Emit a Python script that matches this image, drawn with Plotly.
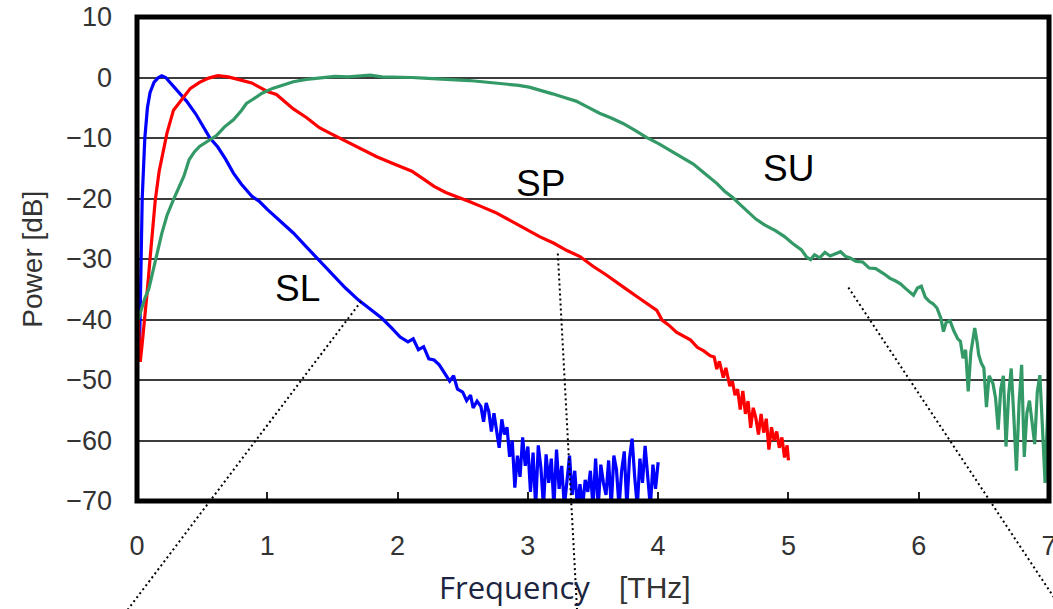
import plotly.graph_objects as go

# ---------------- data ----------------
freq_sl = [0.02, 0.03, 0.04, 0.06, 0.08, 0.10, 0.13, 0.16, 0.19, 0.22, 0.27, 0.32, 0.38, 0.45, 0.52, 0.56,
           0.62, 0.68, 0.74, 0.80, 0.88, 0.94, 1.00, 1.10, 1.20, 1.30, 1.39, 1.50, 1.60, 1.70, 1.80, 1.88,
           1.95, 2.02, 2.08, 2.12, 2.16, 2.20, 2.24, 2.28, 2.32, 2.36, 2.40, 2.43, 2.46, 2.50, 2.53, 2.56,
           2.58, 2.61, 2.64, 2.66, 2.68, 2.70, 2.72, 2.74, 2.76, 2.78, 2.80, 2.82, 2.84, 2.86, 2.88, 2.90,
           2.92, 2.94, 2.96, 2.98, 3.00, 3.02, 3.04, 3.06, 3.08, 3.10, 3.12, 3.14, 3.16, 3.18, 3.20, 3.22,
           3.24, 3.26, 3.28, 3.30, 3.32, 3.34, 3.36, 3.38, 3.40, 3.42, 3.44, 3.46, 3.48, 3.50, 3.52, 3.54,
           3.56, 3.58, 3.60, 3.62, 3.64, 3.66, 3.68, 3.70, 3.72, 3.74, 3.76, 3.78, 3.80, 3.82, 3.84, 3.86,
           3.88, 3.90, 3.92, 3.94, 3.96, 3.98, 4.00]
power_sl = [-44, -30, -20, -10, -5, -2.5, -0.8, -0.1, 0.3, 0, -1.2, -2.5, -3.9, -6, -8.7, -10,
            -11.5, -13.5, -15.8, -17.6, -19.6, -20.5, -21.8, -23.7, -25.7, -28, -30, -32.5, -34.8, -36.8, -38.4, -39.8,
            -41.3, -42.9, -43.7, -43.2, -45, -44.5, -46.5, -46.7, -47.5, -48.8, -50.2, -49.3, -51.5, -52, -53.4, -52.5,
            -54.6, -53.5, -54.4, -56.9, -53.8, -55.2, -58.5, -55.5, -58, -61.2, -56.5, -59, -57.8, -62.7, -60, -67.8,
            -62.5, -66, -59.5, -64.2, -61, -68.5, -62, -71, -60.8, -64.5, -71, -62.3, -67, -63, -71, -61.5,
            -68, -64.2, -71, -66.5, -62.5, -69, -65, -71, -67.2, -71, -66.5, -68.5, -65, -71, -63, -71,
            -64, -67, -69, -63.3, -71, -62.5, -64.8, -71, -65, -61.8, -71, -63, -59.7, -66, -71, -63,
            -67, -60.9, -66, -71, -64, -68, -63.6]

freq_sp = [0.01, 0.025, 0.04, 0.06, 0.08, 0.10, 0.12, 0.14, 0.17, 0.20, 0.23, 0.28, 0.35, 0.41, 0.48, 0.55,
           0.62, 0.70, 0.79, 0.88, 0.95, 1.00, 1.07, 1.13, 1.20, 1.30, 1.40, 1.48, 1.57, 1.66, 1.75, 1.84,
           1.95, 2.05, 2.11, 2.20, 2.28, 2.37, 2.46, 2.55, 2.64, 2.75, 2.87, 2.98, 3.09, 3.20, 3.30, 3.40,
           3.50, 3.60, 3.67, 3.75, 3.85, 3.92, 3.99, 4.03, 4.08, 4.14, 4.20, 4.25, 4.30, 4.35, 4.40, 4.43,
           4.45, 4.47, 4.50, 4.52, 4.55, 4.57, 4.59, 4.61, 4.63, 4.65, 4.67, 4.69, 4.71, 4.73, 4.75, 4.77,
           4.79, 4.81, 4.83, 4.85, 4.87, 4.89, 4.91, 4.93, 4.95, 4.97, 4.99, 5.00]
power_sp = [-40, -47, -44, -40, -35, -30, -25, -20.3, -15.5, -12.5, -9.2, -5.4, -3.4, -1.8, -0.8, -0.1,
            0.3, 0.1, -0.4, -0.9, -1.7, -2.3, -2.8, -3.9, -5.2, -6.6, -8.3, -9.2, -10.2, -11.1, -12.1, -13.1,
            -14.1, -14.9, -15.5, -16.8, -18, -19, -19.7, -20.5, -21.3, -22.3, -23.7, -25, -26.3, -27.4, -28.6, -29.6,
            -31.2, -32.6, -33.6, -34.9, -36.4, -37.5, -38.5, -40.1, -40.9, -42.1, -42.8, -43.4, -44.6, -45.2, -46, -46.2,
            -48.2, -46.9, -49.6, -48, -51, -50.2, -52.5, -51.5, -54.9, -51.8, -55.6, -53.5, -57.9, -54.6, -56.3, -59,
            -55.6, -58.7, -56.4, -61.5, -57.8, -60, -58.5, -61.2, -59.5, -62.8, -60.8, -63.3]

freq_su = [0.01, 0.03, 0.06, 0.09, 0.12, 0.15, 0.19, 0.23, 0.28, 0.32, 0.36, 0.40, 0.44, 0.48, 0.54, 0.61,
           0.67, 0.74, 0.80, 0.84, 0.89, 0.96, 1.04, 1.12, 1.20, 1.30, 1.40, 1.52, 1.62, 1.70, 1.79, 1.88,
           2.00, 2.11, 2.20, 2.30, 2.42, 2.55, 2.65, 2.74, 2.85, 2.93, 3.01, 3.10, 3.19, 3.28, 3.37, 3.46,
           3.55, 3.64, 3.73, 3.82, 3.91, 4.00, 4.09, 4.18, 4.27, 4.36, 4.45, 4.51, 4.57, 4.63, 4.69, 4.75,
           4.82, 4.90, 4.97, 5.03, 5.10, 5.14, 5.17, 5.20, 5.24, 5.28, 5.32, 5.36, 5.40, 5.44, 5.47, 5.52,
           5.57, 5.62, 5.67, 5.73, 5.78, 5.82, 5.86, 5.90, 5.93, 5.96, 5.99, 6.02, 6.05, 6.08, 6.11, 6.14,
           6.17, 6.19, 6.21, 6.24, 6.27, 6.30, 6.32, 6.34, 6.36, 6.38, 6.40, 6.43, 6.45, 6.46, 6.48, 6.50,
           6.52, 6.54, 6.57, 6.59, 6.61, 6.63, 6.65, 6.67, 6.69, 6.71, 6.73, 6.75, 6.77, 6.79, 6.81, 6.83,
           6.85, 6.87, 6.89, 6.91, 6.93, 6.95, 6.97, 6.99, 7.00]
power_su = [-40, -38.5, -36.5, -35, -32.5, -29.5, -25.8, -22.8, -20.2, -18.2, -16.3, -13.6, -12.3, -11.4, -10.5, -9.6,
            -8.2, -7, -5.5, -4.3, -3.6, -2.6, -1.8, -1.2, -0.7, -0.3, -0.1, 0.2, 0.1, 0.3, 0.4, 0.1,
            0.1, 0, -0.1, -0.2, -0.4, -0.5, -0.7, -0.9, -1.1, -1.3, -1.6, -2.1, -2.7, -3.3, -3.9, -4.9,
            -5.9, -6.7, -7.6, -8.7, -9.9, -10.9, -12, -13.1, -14.3, -15.9, -17.5, -18.8, -19.8, -21, -22.2, -23.4,
            -24.4, -25.3, -26.3, -27.4, -28.5, -29.7, -30.1, -29.3, -29.8, -28.9, -29.5, -29.1, -28.8, -29.6, -29.8, -30.4,
            -30.5, -31.5, -31.6, -32.4, -33.2, -33.6, -34.1, -34.9, -35.5, -36, -34.8, -34.5, -36.3, -37, -37.4, -38.1,
            -39.8, -42, -40.5, -40.2, -41.9, -43.2, -43.6, -46.4, -45, -51.9, -45.5, -41.4, -44, -45.8, -47.2, -48,
            -54.5, -49.3, -50.6, -53, -58.2, -51.5, -49.3, -61, -52.5, -48.1, -56, -65, -54, -47.5, -62.7, -55.5,
            -53.4, -57, -60.6, -52, -49.2, -58, -67, -55, -49.5]

series_names = ["SL", "SP", "SU"]
series_colors = ["#0000ff", "#ff0000", "#339966"]

# text labels (freq, power) of each curve name
label_freq = [1.23, 3.10, 5.00]
label_power = [-34.9, -17.5, -15.1]

# leader lines: start on the curve, end below the chart (freq, power)
lead_start_freq = [1.72, 3.23, 5.46]
lead_start_power = [-37.0, -29.1, -34.7]
lead_end_freq = [-0.09, 3.38, 7.04]
lead_end_power = [-88.5, -89.0, -86.0]

X_RANGE = [0, 7]
Y_RANGE = [-70, 10]
x_ticks = [0, 1, 2, 3, 4, 5, 6, 7]
y_ticks = [10, 0, -10, -20, -30, -40, -50, -60, -70]


def to_paper(f, p):
    return ((f - X_RANGE[0]) / (X_RANGE[1] - X_RANGE[0]),
            (p - Y_RANGE[0]) / (Y_RANGE[1] - Y_RANGE[0]))


fig = go.Figure()
for name, fx, py, col in zip(series_names, [freq_sl, freq_sp, freq_su],
                             [power_sl, power_sp, power_su], series_colors):
    fig.add_trace(go.Scatter(x=fx, y=py, mode="lines", name=name,
                             line=dict(color=col, width=3.2), showlegend=False))

TICK_FONT = dict(family="Liberation Sans, Arial, sans-serif", size=27, color="#333333")

fig.update_layout(
    width=1053, height=609,
    margin=dict(l=137, r=4, t=17, b=108, pad=0, autoexpand=False),
    paper_bgcolor="white", plot_bgcolor="white",
    xaxis=dict(range=X_RANGE, tickmode="array", tickvals=x_ticks,
               ticktext=[str(v) for v in x_ticks],
               showgrid=False, zeroline=False, showline=False,
               ticks="inside", ticklen=9, tickwidth=1.5, tickcolor="#222",
               tickfont=TICK_FONT, ticklabelstandoff=26,
               ticklabeloverflow="allow", automargin=False),
    yaxis=dict(range=Y_RANGE, tickmode="array", tickvals=y_ticks,
               showgrid=True, gridcolor="#3c3c3c", gridwidth=2,
               zeroline=False, showline=False, ticks="",
               tickfont=TICK_FONT, ticklabelstandoff=24,
               ticklabeloverflow="allow", automargin=False),
)

# thick black frame
fig.add_shape(type="rect", xref="paper", yref="paper", x0=0, y0=0, x1=1, y1=1,
              line=dict(color="black", width=5), layer="above")

# leader lines
for sf, sp_, ef, ep in zip(lead_start_freq, lead_start_power, lead_end_freq, lead_end_power):
    x0, y0 = to_paper(sf, sp_)
    x1, y1 = to_paper(ef, ep)
    fig.add_shape(type="line", xref="paper", yref="paper", x0=x0, y0=y0, x1=x1, y1=y1,
                  line=dict(color="black", width=2, dash="2px,3px"), layer="above")

# curve name labels
for name, lf, lp in zip(series_names, label_freq, label_power):
    fig.add_annotation(x=lf, y=lp, xref="x", yref="y", text=name, showarrow=False,
                       font=dict(family="Liberation Sans, Arial, sans-serif", size=37, color="black"),
                       xanchor="center", yanchor="middle")

# axis titles
fig.add_annotation(x=-0.1155, y=0.5, xref="paper", yref="paper", text="Power [dB]",
                   textangle=-90, showarrow=False, xanchor="center", yanchor="middle",
                   font=dict(family="Liberation Sans, Arial, sans-serif", size=28, color="#333333"))
fig.add_annotation(x=0.329, y=-0.178, xref="paper", yref="paper", text="Frequency",
                   showarrow=False, xanchor="left", yanchor="middle",
                   font=dict(family="Open Sans, sans-serif", size=31, color="#1b2440"))
fig.add_annotation(x=0.526, y=-0.178, xref="paper", yref="paper", text="[THz]",
                   showarrow=False, xanchor="left", yanchor="middle",
                   font=dict(family="Liberation Sans, Arial, sans-serif", size=30, color="#333333"))

fig.write_html("out.html")
